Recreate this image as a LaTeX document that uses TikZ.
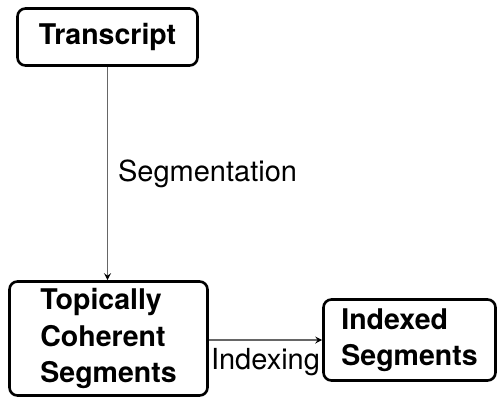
\documentclass[tikz,border=0pt]{standalone}
\usepackage{fontspec}
\setmainfont{TeX Gyre Heros}
\usetikzlibrary{arrows.meta}
\begin{document}
\begin{tikzpicture}[x=1pt,y=-1pt,
  box/.style={draw=black, line width=2.6pt, rounded corners=8pt,
    font=\fontsize{28.5}{36.5}\selectfont\bfseries, align=left, inner sep=0pt},
  flow/.style={draw=black!60, line width=1.2pt,
    -{Stealth[length=7pt,width=7pt,inset=2.5pt,color=black]}},
  lbl/.style={font=\fontsize{29}{34}\selectfont, inner sep=0pt}]
\useasboundingbox (0,0) rectangle (498,399);
% process stages
\node[box, minimum width=180pt, minimum height=57pt] (tr) at (107.5,37) {Transcript};
\node[box, minimum width=198pt, minimum height=114pt] (tc) at (108.5,338.5)
  {Topically\\Coherent\\Segments};
\node[box, minimum width=172pt, minimum height=81pt] (ix) at (409.5,340)
  {Indexed\\Segments};
% transitions between stages
\draw[flow] (tr.south) -- node[lbl, right=10pt] {Segmentation} (tr.south |- tc.north);
\draw[flow] (tc.east |- ix.west) -- node[lbl, below=8pt] {Indexing} (ix.west);
\end{tikzpicture}
\end{document}
